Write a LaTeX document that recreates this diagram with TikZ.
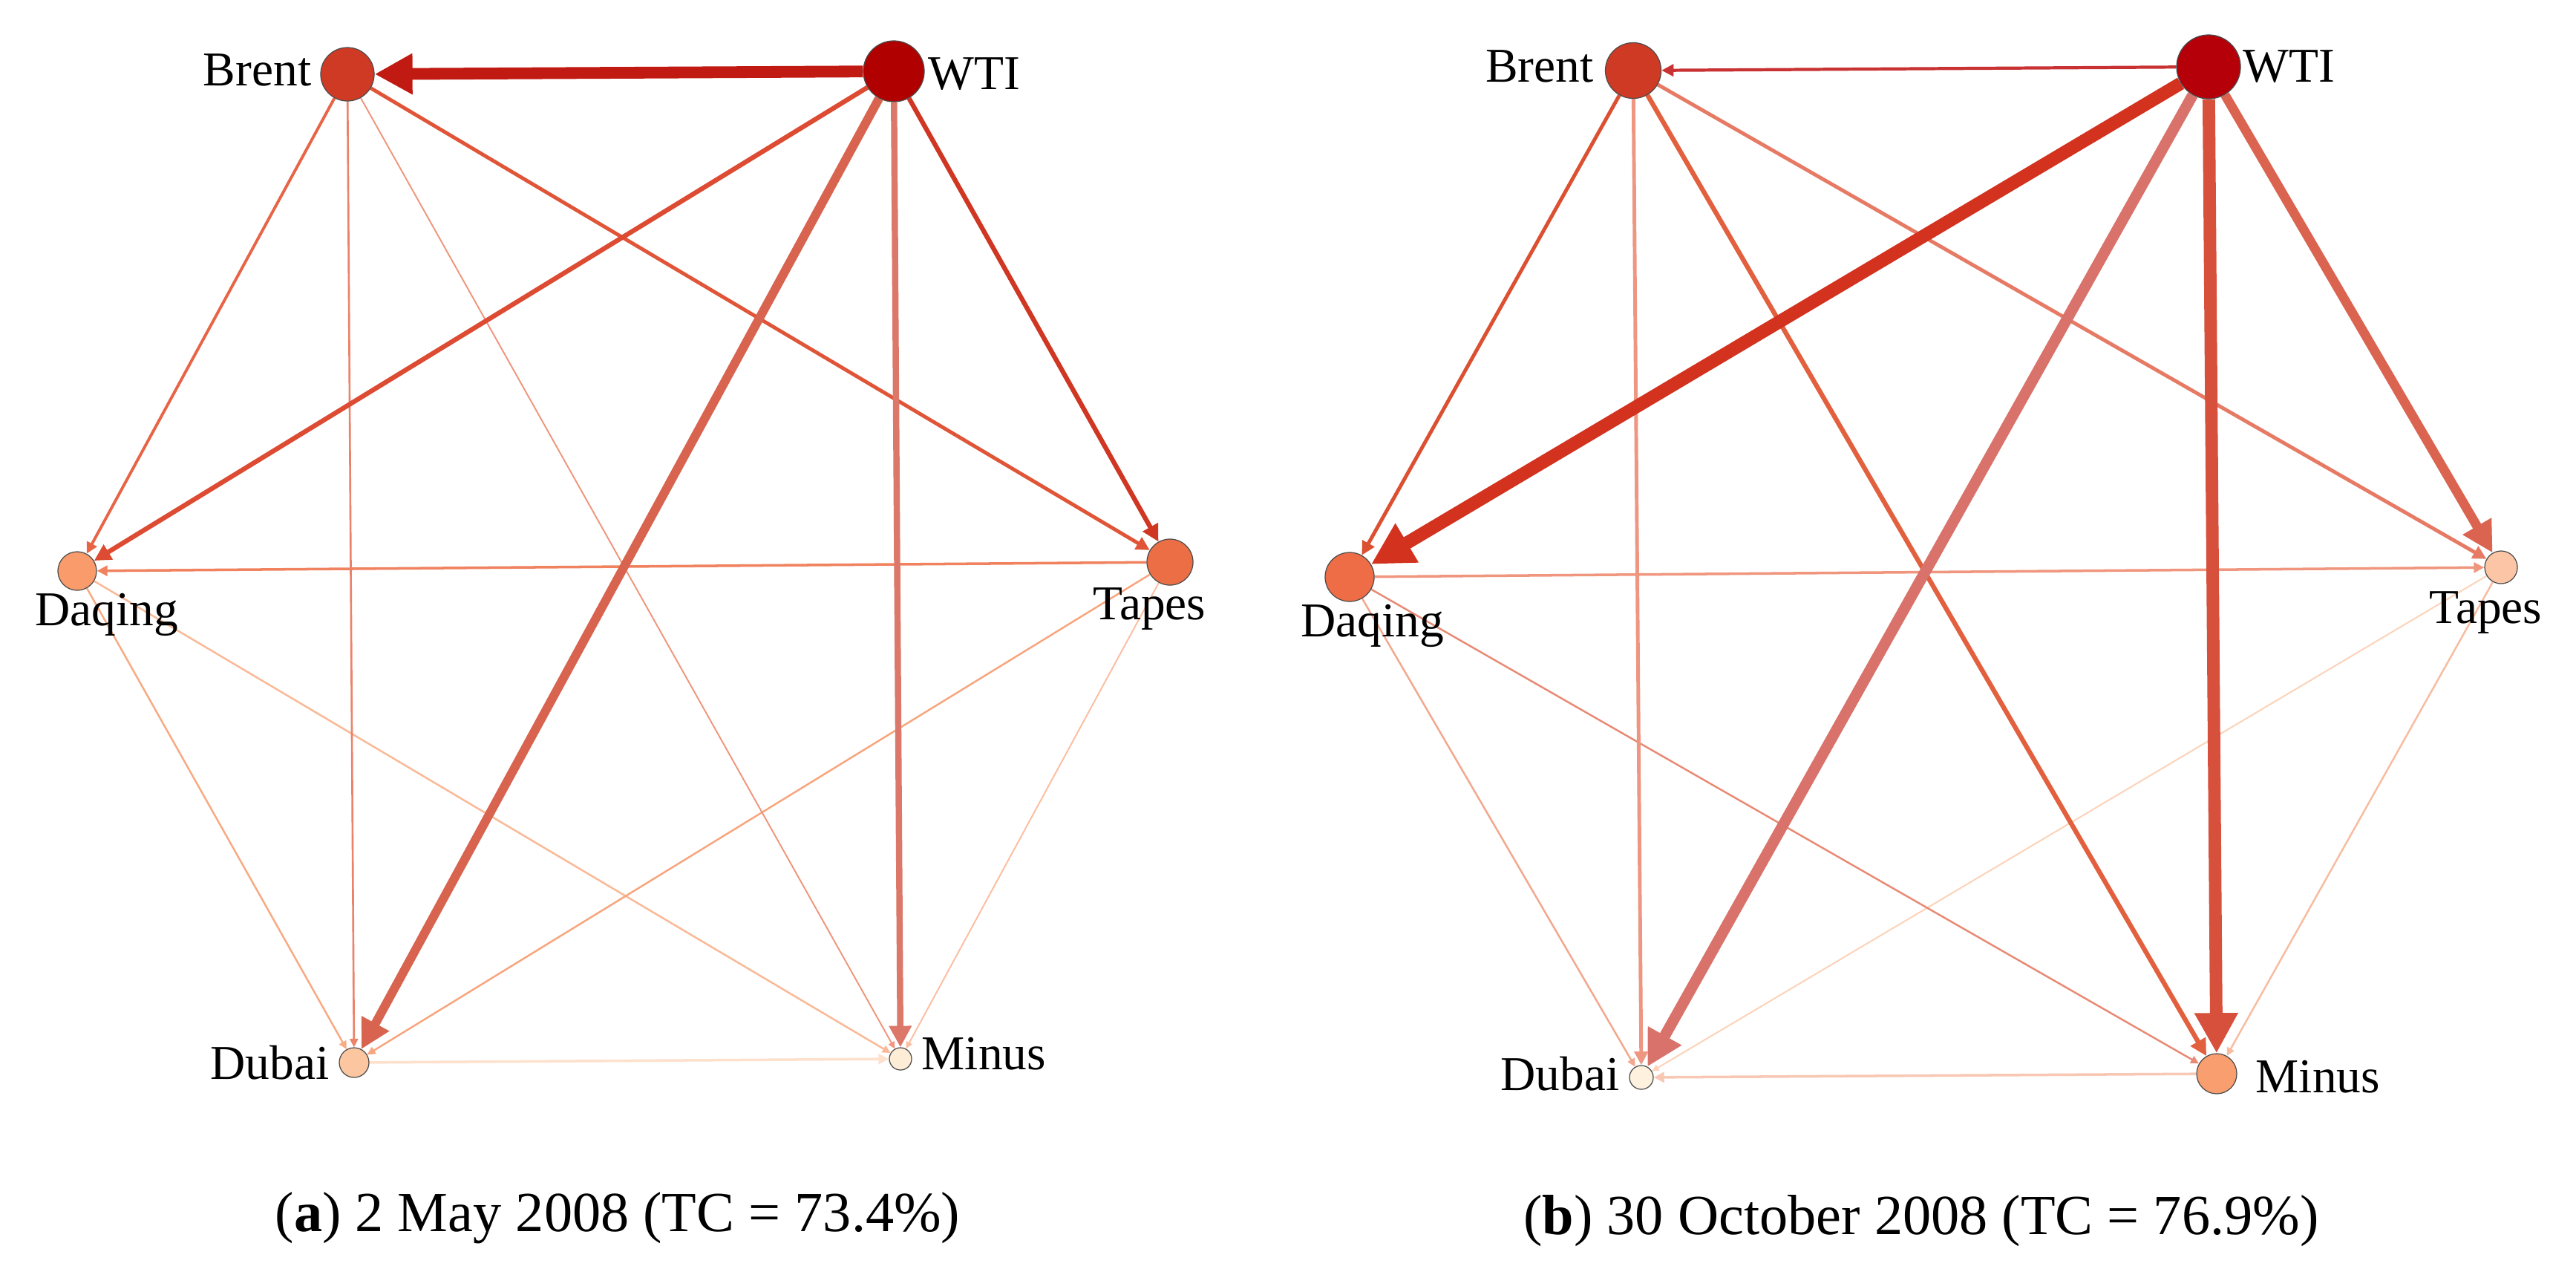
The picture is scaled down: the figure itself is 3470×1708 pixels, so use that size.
\documentclass[tikz,border=0pt]{standalone}
\usepackage{fontspec}
\setmainfont{Liberation Serif}
\usetikzlibrary{arrows.meta}
\pgfdeclarelayer{bg}
\pgfsetlayers{bg,main}
% node colours
\definecolor{aBrent}{HTML}{CF3A25}
\definecolor{aWTI}{HTML}{B00000}
\definecolor{aDaqing}{HTML}{F99B6B}
\definecolor{aTapes}{HTML}{EC6E45}
\definecolor{aDubai}{HTML}{FBC6A0}
\definecolor{aMinus}{HTML}{FEEDD6}
\definecolor{bBrent}{HTML}{CF3A25}
\definecolor{bWTI}{HTML}{B5000A}
\definecolor{bDaqing}{HTML}{EE6D46}
\definecolor{bTapes}{HTML}{FCC6A6}
\definecolor{bDubai}{HTML}{FEF2DE}
\definecolor{bMinus}{HTML}{F99E6E}
% edge colours (a)
\definecolor{ea1}{HTML}{C01A12}
\definecolor{ea2}{HTML}{DC4B32}
\definecolor{ea3}{HTML}{D86450}
\definecolor{ea4}{HTML}{DC7869}
\definecolor{ea5}{HTML}{D03723}
\definecolor{ea6}{HTML}{E86446}
\definecolor{ea7}{HTML}{EC8269}
\definecolor{ea8}{HTML}{F0967D}
\definecolor{ea9}{HTML}{E05537}
\definecolor{ea10}{HTML}{F0825F}
\definecolor{ea11}{HTML}{F8AA82}
\definecolor{ea12}{HTML}{FAB996}
\definecolor{ea13}{HTML}{F8A57D}
\definecolor{ea14}{HTML}{FCBEA0}
\definecolor{ea15}{HTML}{FDE1CD}
% edge colours (b)
\definecolor{eb1}{HTML}{C83232}
\definecolor{eb2}{HTML}{D2321E}
\definecolor{eb3}{HTML}{D8726A}
\definecolor{eb4}{HTML}{D6503C}
\definecolor{eb5}{HTML}{DA6450}
\definecolor{eb6}{HTML}{DC5032}
\definecolor{eb7}{HTML}{EE9682}
\definecolor{eb8}{HTML}{E2603E}
\definecolor{eb9}{HTML}{E67A64}
\definecolor{eb10}{HTML}{F0967E}
\definecolor{eb11}{HTML}{F2A88E}
\definecolor{eb12}{HTML}{E88A74}
\definecolor{eb13}{HTML}{FCD2B8}
\definecolor{eb14}{HTML}{F8BCA0}
\definecolor{eb15}{HTML}{F8C8B4}
\begin{document}
\begin{tikzpicture}[x=0.01cm,y=-0.01cm,
  nd/.style={circle, draw=black!70, line width=0.35pt, inner sep=0pt},
  lbl/.style={font=\fontsize{18.6}{22}\selectfont, inner sep=0pt, text=black},
  captxt/.style={font=\fontsize{21.7}{26}\selectfont, inner sep=0pt, anchor=base},
  ed/.style={-{Triangle[length=1pt 3.0, width=0.8pt 3.1]}}]
\useasboundingbox (0,0) rectangle (3470,1708);
% ---------- panel (a) nodes ----------
\node[nd, fill=aBrent,  minimum size=0.72cm] (aB) at (468,100) {};
\node[nd, fill=aWTI,    minimum size=0.82cm] (aW) at (1204,96) {};
\node[nd, fill=aDaqing, minimum size=0.52cm] (aQ) at (104,769) {};
\node[nd, fill=aTapes,  minimum size=0.62cm] (aT) at (1576,757) {};
\node[nd, fill=aDubai,  minimum size=0.40cm] (aD) at (477,1431) {};
\node[nd, fill=aMinus,  minimum size=0.30cm] (aM) at (1213,1426) {};
\node[lbl, anchor=base east] (laB) at (420,115) {Brent};
\node[lbl, anchor=base west] (laW) at (1250,120) {WTI};
\node[lbl, anchor=base west] (laQ) at (47,842) {Daqing};
\node[lbl, anchor=base west] (laT) at (1472,834) {Tapes};
\node[lbl, anchor=base east] (laD) at (444,1453) {Dubai};
\node[lbl, anchor=base west] (laM) at (1241,1440) {Minus};
\node[captxt] (capa) at (832,1658) {(\textbf{a}) 2 May 2008 (TC = 73.4\%)};
% ---------- panel (b) nodes ----------
\node[nd, fill=bBrent,  minimum size=0.75cm] (bB) at (2200,95) {};
\node[nd, fill=bWTI,    minimum size=0.86cm] (bW) at (2975,90) {};
\node[nd, fill=bDaqing, minimum size=0.66cm] (bQ) at (1818,777) {};
\node[nd, fill=bTapes,  minimum size=0.44cm] (bT) at (3369,764) {};
\node[nd, fill=bDubai,  minimum size=0.32cm] (bD) at (2211,1451) {};
\node[nd, fill=bMinus,  minimum size=0.54cm] (bM) at (2986,1446) {};
\node[lbl, anchor=base east] (lbB) at (2147,110) {Brent};
\node[lbl, anchor=base west] (lbW) at (3021,110) {WTI};
\node[lbl, anchor=base west] (lbQ) at (1752,857) {Daqing};
\node[lbl, anchor=base west] (lbT) at (3272,839) {Tapes};
\node[lbl, anchor=base east] (lbD) at (2182,1468) {Dubai};
\node[lbl, anchor=base west] (lbM) at (3038,1471) {Minus};
\node[captxt] (capb) at (2588,1662) {(\textbf{b}) 30 October 2008 (TC = 76.9\%)};
\begin{pgfonlayer}{bg}
\fill[white] (0,0) rectangle (3470,1708);
% ---------- panel (a) edges ----------
\draw[ed, draw=ea15, line width=1.0pt] (aD) -- (aM);
\draw[ed, draw=ea14, line width=0.55pt] (aT) -- (aM);
\draw[ed, draw=ea12, line width=0.7pt] (aQ) -- (aM);
\draw[ed, draw=ea13, line width=0.7pt] (aT) -- (aD);
\draw[ed, draw=ea11, line width=0.7pt] (aQ) -- (aD);
\draw[ed, draw=ea10, line width=1.0pt] (aT) -- (aQ);
\draw[ed, draw=ea8, line width=0.55pt] (aB) -- (aM);
\draw[ed, draw=ea7, line width=0.75pt] (aB) -- (aD);
\draw[ed, draw=ea6, line width=1.1pt] (aB) -- (aQ);
\draw[ed, draw=ea9, line width=1.4pt] (aB) -- (aT);
\draw[ed, draw=ea4, line width=2.4pt] (aW) -- (aM);
\draw[ed, draw=ea5, line width=1.8pt] (aW) -- (aT);
\draw[ed, draw=ea2, line width=1.8pt] (aW) -- (aQ);
\draw[ed, draw=ea3, line width=3.4pt] (aW) -- (aD);
\draw[ed, draw=ea1, line width=4.5pt] (aW) -- (aB);
% ---------- panel (b) edges ----------
\draw[ed, draw=eb15, line width=1.0pt] (bM) -- (bD);
\draw[ed, draw=eb14, line width=0.7pt] (bT) -- (bM);
\draw[ed, draw=eb13, line width=0.55pt] (bT) -- (bD);
\draw[ed, draw=eb12, line width=0.7pt] (bQ) -- (bM);
\draw[ed, draw=eb11, line width=0.7pt] (bQ) -- (bD);
\draw[ed, draw=eb10, line width=1.0pt] (bQ) -- (bT);
\draw[ed, draw=eb9, line width=1.4pt] (bB) -- (bT);
\draw[ed, draw=eb8, line width=1.8pt] (bB) -- (bM);
\draw[ed, draw=eb7, line width=1.4pt] (bB) -- (bD);
\draw[ed, draw=eb6, line width=1.4pt] (bB) -- (bQ);
\draw[ed, draw=eb1, line width=1.2pt] (bW) -- (bB);
\draw[ed, draw=eb5, line width=3.6pt] (bW) -- (bT);
\draw[ed, draw=eb3, line width=4.2pt] (bW) -- (bD);
\draw[ed, draw=eb4, line width=4.8pt] (bW) -- (bM);
\draw[ed, draw=eb2, line width=5.0pt] (bW) -- (bQ);
\end{pgfonlayer}
\end{tikzpicture}
\end{document}
